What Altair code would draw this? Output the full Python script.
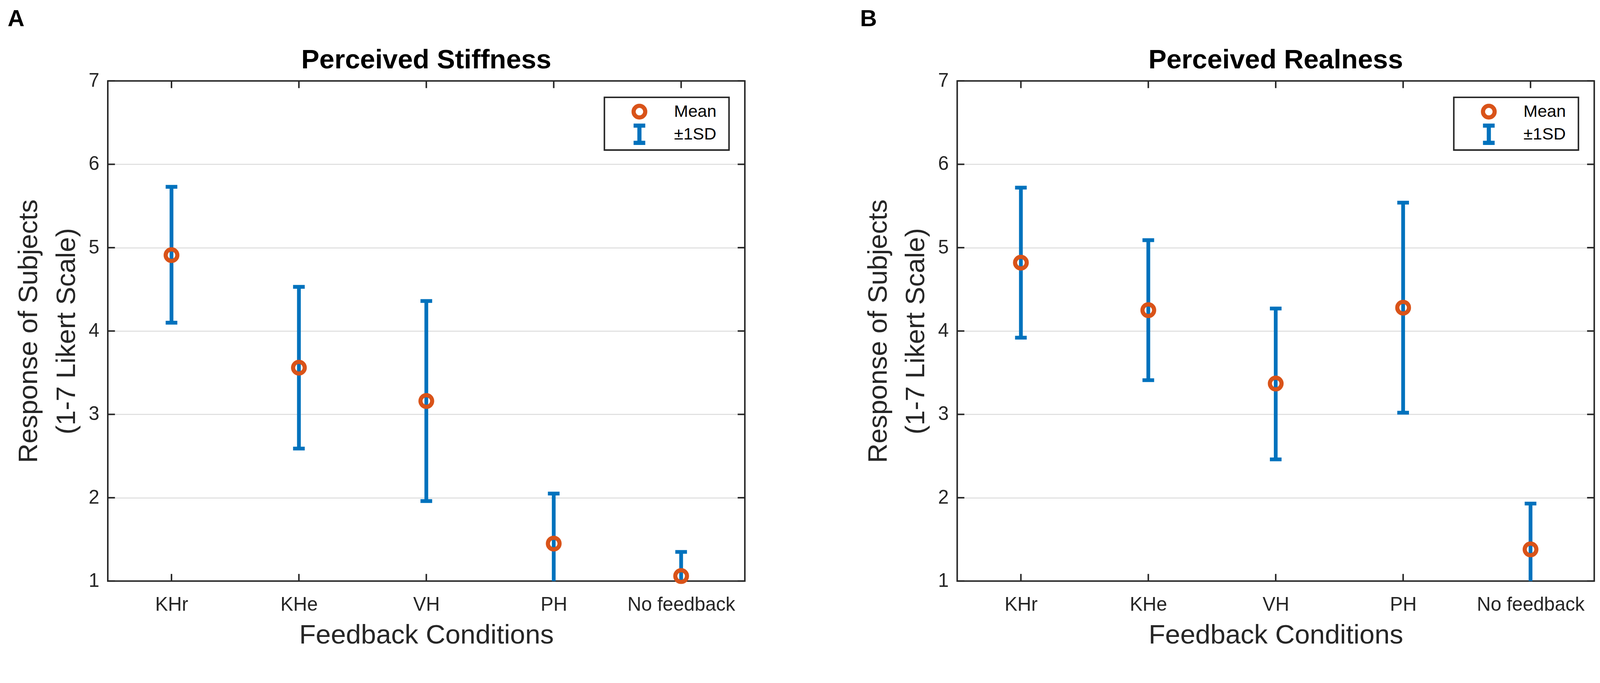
import altair as alt
import pandas as pd

# ---------------- data ----------------
conditions = ["KHr", "KHe", "VH", "PH", "No feedback"]
stiff_mean = [4.91, 3.56, 3.16, 1.45, 1.06]
stiff_lower = [4.10, 2.59, 1.96, 0.85, 0.77]
stiff_upper = [5.73, 4.53, 4.36, 2.05, 1.35]
real_mean = [4.82, 4.25, 3.37, 4.28, 1.38]
real_lower = [3.92, 3.41, 2.46, 3.02, 0.83]
real_upper = [5.72, 5.09, 4.27, 5.54, 1.93]
y_ticks = [1, 2, 3, 4, 5, 6, 7]
panel_titles = ["Perceived Stiffness", "Perceived Realness"]
panel_letters = ["A", "B"]
legend_labels = ["Mean", "±1SD"]
x_title = "Feedback Conditions"
y_title = ["Response of Subjects", "(1-7 Likert Scale)"]

# ---------------- style ----------------
W, H = 1692, 1328
FONT = "Liberation Sans"
BLUE = "#0072BD"
ORANGE = "#D95319"
DARK = "#262626"
SD_PATH = "M-1,-1.48L1,-1.48M0,-1.48L0,1.48M-1,1.48L1,1.48"

xscale = alt.Scale(type="point", padding=0.5, domain=conditions)
yscale = alt.Scale(domain=[1, 7], nice=False, zero=False)

xaxis = alt.Axis(title=x_title, domain=False, ticks=False, tickSize=0, grid=False,
                 labelFont=FONT, labelFontSize=51, labelColor=DARK, labelAngle=0,
                 labelBaseline="alphabetic", labelPadding=78, labelLimit=0, labelOverlap=False,
                 titleFont=FONT, titleFontSize=72, titleFontWeight="normal", titleColor=DARK,
                 titleY=165, titleBaseline="alphabetic")
yaxis = alt.Axis(title=y_title, values=y_ticks, domain=False, ticks=False, tickSize=0,
                 grid=True, gridColor="#dfdfdf", gridWidth=3,
                 labelFont=FONT, labelFontSize=51, labelColor=DARK, labelPadding=23,
                 titleFont=FONT, titleFontSize=72, titleFontWeight="normal", titleColor=DARK,
                 titleX=-188, titleBaseline="alphabetic", titleLineHeight=100)


def X(field):
    return alt.X(f"{field}:N", scale=xscale, axis=xaxis)


def Y(field):
    return alt.Y(f"{field}:Q", scale=yscale, axis=yaxis)


def panel(title, letter, letter_x, mean, lower, upper):
    df = pd.DataFrame({"cond": conditions, "mean": mean, "lower": lower,
                       "upper": upper, "series": legend_labels[0]})
    ticks_df = pd.DataFrame({"v": y_ticks})

    legend = alt.Legend(title=None, orient="none", legendX=1373.5, legendY=43,
                        padding=16, rowPadding=-25, labelFont=FONT, labelFontSize=45,
                        labelColor="black", labelOffset=69.5,
                        symbolSize=961, symbolStrokeWidth=11, labelLimit=0)

    # plot frame and legend frame
    box = alt.Chart(alt.Data(values=[{}])).mark_rect(
        filled=False, stroke=DARK, strokeWidth=4).encode(
        x=alt.value(0), x2=alt.value(W), y=alt.value(0), y2=alt.value(H))
    legend_box = alt.Chart(alt.Data(values=[{}])).mark_rect(
        fill="white", stroke=DARK, strokeWidth=4).encode(
        x=alt.value(1319), x2=alt.value(1650), y=alt.value(43.5), y2=alt.value(183.5))

    ytick_l = alt.Chart(ticks_df).mark_rule(color=DARK, strokeWidth=4).encode(
        y=Y("v"), x=alt.value(0), x2=alt.value(19))
    ytick_r = alt.Chart(ticks_df).mark_rule(color=DARK, strokeWidth=4).encode(
        y=Y("v"), x=alt.value(W - 19), x2=alt.value(W))
    xtick_b = alt.Chart(df).mark_rule(color=DARK, strokeWidth=4).encode(
        x=X("cond"), y=alt.value(H - 19), y2=alt.value(H))
    xtick_t = alt.Chart(df).mark_rule(color=DARK, strokeWidth=4).encode(
        x=X("cond"), y=alt.value(0), y2=alt.value(19))

    bars = alt.Chart(df).mark_rule(color=BLUE, strokeWidth=10, clip=True).encode(
        x=X("cond"), y=Y("lower"), y2="upper:Q")
    cap_hi = alt.Chart(df).mark_tick(color=BLUE, size=31, thickness=10, opacity=1,
                                     clip=True).encode(x=X("cond"), y=Y("upper"))
    cap_lo = alt.Chart(df).mark_tick(color=BLUE, size=31, thickness=10, opacity=1,
                                     clip=True).encode(x=X("cond"), y=Y("lower"))

    points = alt.Chart(df).mark_point(filled=False, size=961, strokeWidth=11,
                                      opacity=1).encode(
        x=X("cond"), y=Y("mean"),
        color=alt.Color("series:N", scale=alt.Scale(domain=legend_labels,
                                                    range=[ORANGE, BLUE]), legend=legend),
        shape=alt.Shape("series:N", scale=alt.Scale(domain=legend_labels,
                                                    range=["circle", SD_PATH]), legend=legend))

    title_txt = alt.Chart(alt.Data(values=[{"t": title}])).mark_text(
        font=FONT, fontSize=72, fontWeight="bold", color="black",
        align="center", baseline="alphabetic").encode(
        text="t:N", x=alt.value(W / 2), y=alt.value(-33))
    letter_txt = alt.Chart(alt.Data(values=[{"t": letter}])).mark_text(
        font=FONT, fontSize=62, fontWeight="bold", color="black",
        align="left", baseline="alphabetic").encode(
        text="t:N", x=alt.value(letter_x), y=alt.value(-145))

    return alt.layer(box, legend_box, ytick_l, ytick_r, xtick_b, xtick_t, bars, cap_hi,
                     cap_lo, points, title_txt, letter_txt).properties(width=W, height=H)


left = panel(panel_titles[0], panel_letters[0], -266, stiff_mean, stiff_lower, stiff_upper)
right = panel(panel_titles[1], panel_letters[1], -258, real_mean, real_lower, real_upper)

chart = alt.hconcat(left, right, spacing=564, bounds="flush").resolve_scale(
    x="independent", y="independent", color="independent", shape="independent"
).resolve_legend(color="independent", shape="independent").properties(
    padding={"left": 12, "top": -20, "right": 5, "bottom": 5}, background="white"
).configure_view(strokeWidth=0)

chart.save("out.html", embed_options={"renderer": "svg", "actions": False})
